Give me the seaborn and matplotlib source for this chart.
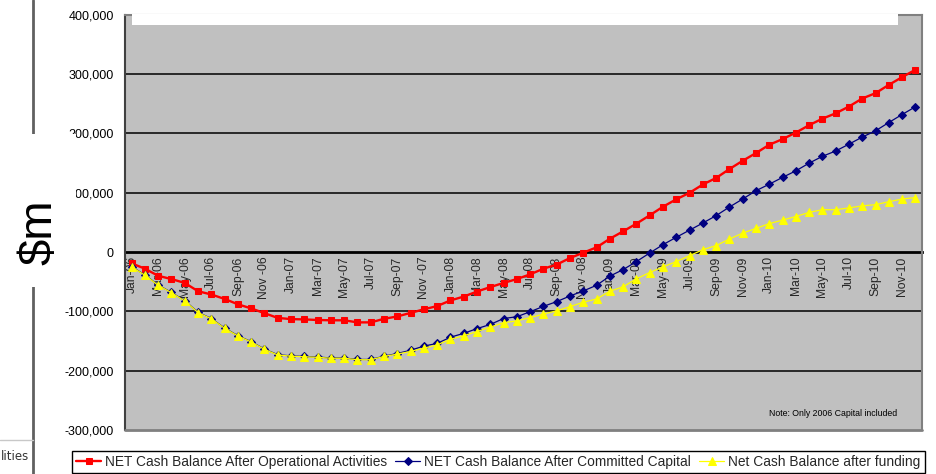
import numpy as np
import pandas as pd
import matplotlib
matplotlib.use("Agg")
import matplotlib.pyplot as plt
import seaborn as sns
from matplotlib.patches import Rectangle
from matplotlib.lines import Line2D
from matplotlib.ticker import FuncFormatter

# Monthly cash balances, Jan-06 .. Dec-10 ($m)
operational = [
    -19000, -28000, -40000, -45500, -52000, -66000, -71500, -79000, -88000, -95000,
    -103000, -111000, -113000, -113500, -114500, -115000, -115000, -118500, -118500, -112500,
    -108500, -102500, -96500, -91000, -81500, -75000, -66500, -59000, -52000, -45500,
    -37500, -28000, -21000, -10000, -1000, 8000, 22500, 35000, 48000, 62000,
    76500, 89000, 100000, 114000, 125000, 140000, 154000, 167000, 181000, 190500,
    201500, 214000, 225000, 234000, 245500, 259000, 268000, 282000, 295000, 307500,
]
committed = [
    -24500, -38500, -55500, -68000, -82000, -101500, -112000, -128000, -141000, -151000,
    -163500, -173000, -175000, -176000, -177000, -178500, -178500, -181000, -181000, -175500,
    -171000, -165500, -158500, -154000, -143500, -137000, -129000, -122000, -112000, -109000,
    -100500, -91500, -83500, -74000, -65500, -56000, -40500, -29500, -16000, -1500,
    12500, 25000, 37000, 49000, 61500, 76000, 89500, 103500, 114500, 126000,
    137000, 150000, 161500, 170500, 182000, 194000, 204500, 218500, 232000, 245000,
]
funding = [
    -25000, -39000, -56000, -68500, -82500, -102000, -112500, -128500, -141500, -151500,
    -164000, -173500, -175500, -176500, -177500, -179000, -179000, -181500, -181500, -176000,
    -172000, -167500, -162000, -156500, -147000, -141000, -134000, -126500, -119000, -116000,
    -110500, -104500, -99000, -92000, -84500, -79000, -66000, -58500, -45000, -34500,
    -25000, -16000, -6000, 4000, 11000, 22000, 32000, 40000, 48000, 54000,
    60000, 67000, 71500, 71500, 74500, 78000, 80000, 85000, 89500, 92000,
]
tick_labels = [
    "Jan-06", "Mar-06", "May-06", "Jul-06", "Sep-06", "Nov -06",
    "Jan-07", "Mar-07", "May-07", "Jul-07", "Sep-07", "Nov -07",
    "Jan-08", "Mar-08", "May-08", "Jul-08", "Sep-08", "Nov -08",
    "Jan-09", "Mar-09", "May-09", "Jul-09", "Sep-09", "Nov-09",
    "Jan-10", "Mar-10", "May-10", "Jul-10", "Sep-10", "Nov-10",
]
series_names = [
    "NET Cash Balance After Operational Activities",
    "NET Cash Balance After Committed Capital",
    "Net Cash Balance after funding",
]

sns.set_style("white")
plt.rcParams["font.family"] = ["Liberation Sans", "DejaVu Sans"]

W, H = 936, 474
fig = plt.figure(figsize=(W / 100, H / 100), dpi=100)
ax = fig.add_axes([125 / W, 44 / H, 797 / W, 415.1 / H])
ax.set_facecolor("#C0C0C0")

month = np.arange(len(operational))
df = pd.DataFrame({"month": month, "op": operational, "cc": committed, "fu": funding})

for v in (-200000, -100000, 100000, 200000, 300000):
    ax.axhline(v, color="black", lw=1.1, zorder=1)

sns.lineplot(data=df, x="month", y="op", ax=ax, color="#FF0000", lw=1.7,
             marker="s", markersize=5, markeredgecolor="#FF0000",
             label=series_names[0], zorder=3)
sns.lineplot(data=df, x="month", y="cc", ax=ax, color="#000080", lw=0.9,
             marker="D", markersize=3.8, markeredgecolor="#000080",
             label=series_names[1], zorder=4)
sns.lineplot(data=df, x="month", y="fu", ax=ax, color="#FFFF00", lw=0.9,
             marker="^", markersize=5.5, markeredgecolor="#FFFF00",
             label=series_names[2], zorder=5)

ax.set_xlim(-0.5, len(operational) - 0.5)
ax.set_ylim(-300000, 400000)
ax.set_xlabel("")
ax.set_ylabel("")

# y axis
ax.set_yticks(np.arange(-300000, 400001, 100000))
ax.yaxis.set_major_formatter(FuncFormatter(lambda v, p: f"{v:,.0f}"))
ax.tick_params(axis="y", direction="out", length=5, width=1, color="#404040",
               pad=3, labelsize=9, labelcolor="black")

# x axis drawn through zero, tick marks on month boundaries
ax.spines["bottom"].set_position(("data", 0))
ax.spines["bottom"].set_color("black")
ax.spines["bottom"].set_linewidth(2)
ax.spines["bottom"].set_zorder(2)
ax.set_xticks(np.arange(-0.5, len(operational), 2))
ax.set_xticklabels([])
ax.tick_params(axis="x", which="major", direction="inout", length=6, width=1.5,
               color="black")
ax.set_xticks(np.arange(0, len(operational), 2), minor=True)
ax.set_xticklabels(tick_labels, minor=True, rotation=90, fontsize=8.7)
ax.tick_params(axis="x", which="minor", length=0, pad=3)

ax.spines["left"].set_color("#404040")
ax.spines["left"].set_linewidth(1.5)
ax.spines["right"].set_color("#808080")
ax.spines["right"].set_linewidth(1.5)
ax.spines["top"].set_color("#808080")
ax.spines["top"].set_linewidth(1.5)
ax.axhline(-300000, color="#808080", lw=2, clip_on=False, zorder=6)

ax.text(897 / W, 1 - 414 / H, "Note: Only 2006 Capital included",
        transform=fig.transFigure, ha="right", va="center", fontsize=6.3,
        color="black")

# legend below the plot
handles, labels = ax.get_legend_handles_labels()
if ax.get_legend() is not None:
    ax.get_legend().remove()
leg = fig.legend(handles, labels, loc="upper left",
                 bbox_to_anchor=(72 / W, 1 - 451 / H), ncol=3, frameon=True,
                 fancybox=False, edgecolor="black", framealpha=1, fontsize=9.9,
                 handlelength=1.8, handletextpad=0.3, columnspacing=0.6,
                 borderpad=0.3, borderaxespad=0)
leg.get_frame().set_linewidth(1)

# surrounding page elements
fig.add_artist(Line2D([33 / W, 33 / W], [0, 1], transform=fig.transFigure,
                      color="#606060", lw=2, zorder=4))
fig.add_artist(Line2D([0, 33 / W], [1 - 440 / H, 1 - 440 / H],
                      transform=fig.transFigure, color="#C8C8C8", lw=1, zorder=4))
fig.text(1 / W, 1 - 456 / H, "lities", ha="left", va="center",
         fontsize=8.5, color="#333333", family=["DejaVu Sans"], zorder=4)
fig.add_artist(Rectangle((0, 1 - 287 / H), 75.5 / W, (287 - 134) / H,
                         transform=fig.transFigure, facecolor="white",
                         edgecolor="none", zorder=5))
fig.text(39 / W, 1 - 232 / H, "$m", rotation=90, ha="center", va="center",
         fontsize=34, color="black", parse_math=False, zorder=6)
fig.add_artist(Rectangle((131.7 / W, 1 - 25 / H), (898.3 - 131.7) / W, 11 / H,
                         transform=fig.transFigure, facecolor="white",
                         edgecolor="none", zorder=7))

fig.savefig("out.png", dpi=100)
